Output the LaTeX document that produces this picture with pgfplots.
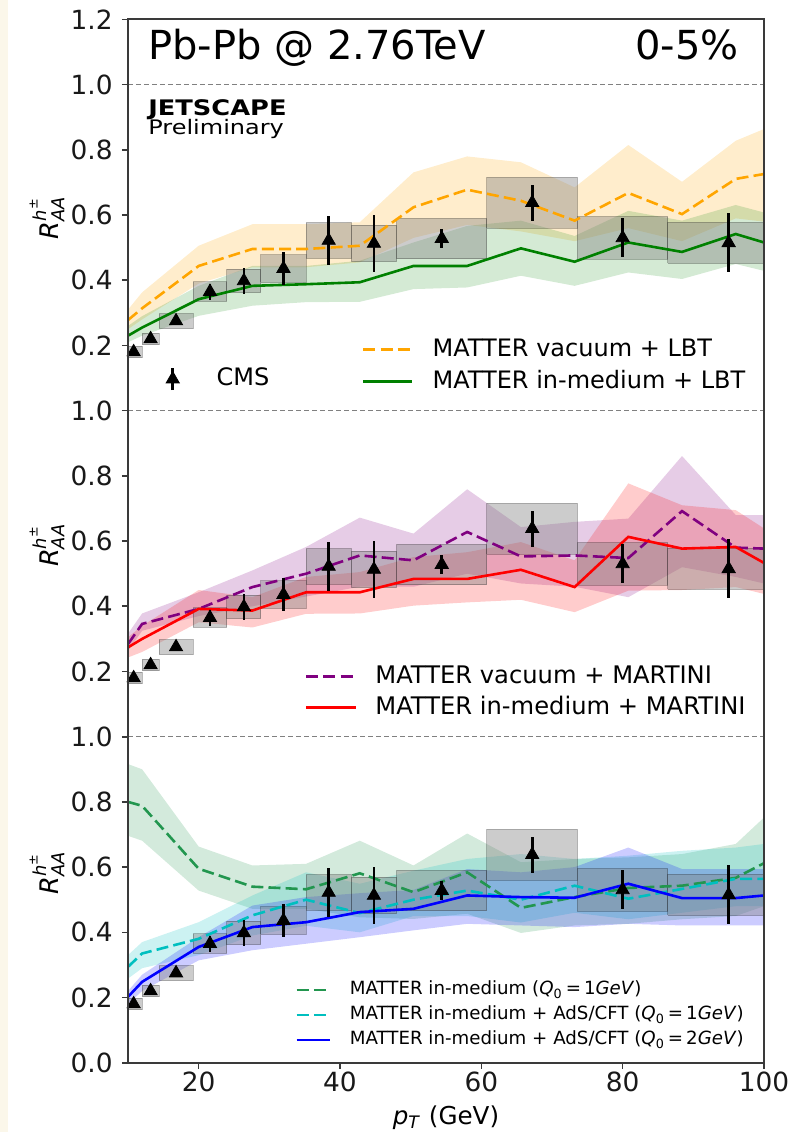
\documentclass[border=0pt]{standalone}
\usepackage{fontspec}
\setmainfont{DejaVu Sans}
\newfontfamily\jsfont{DejaVu Sans}[FakeStretch=1.2]
\usepackage{amsmath}
\usepackage{pgfplots}
\pgfplotsset{compat=1.18}
\usepackage{pgfplotstable}

\definecolor{corange}{HTML}{FFA500}
\definecolor{cgreen}{HTML}{008000}
\definecolor{cpurple}{HTML}{800080}
\definecolor{cred}{HTML}{FF0000}
\definecolor{csea}{HTML}{22964F}
\definecolor{ccyan}{HTML}{00BFBF}
\definecolor{cblue}{HTML}{0000FF}
\definecolor{cream}{HTML}{FBF7EA}
\definecolor{spine}{HTML}{3A3A3A}

% CMS charged hadron R_AA, 0-5%
\pgfplotstableread{
x y stat
10.8 0.180 0.008
13.2 0.220 0.008
16.8 0.275 0.010
21.6 0.365 0.025
26.4 0.398 0.040
32.0 0.436 0.050
38.4 0.522 0.074
44.8 0.513 0.087
54.4 0.528 0.028
67.2 0.638 0.055
80.0 0.530 0.060
95.0 0.515 0.090
}\cmstab

% central curves: x and value of each model
\pgfplotstableread{
x vacLBT medLBT vacMAR medMAR medQone adsQone adsQtwo
10   0.278 0.230 0.284 0.274 0.800 0.294 0.202
12   0.314 0.255 0.346 0.300 0.788 0.335 0.248
20   0.444 0.342 0.392 0.392 0.595 0.380 0.355
27.6 0.496 0.383 0.459 0.387 0.540 0.452 0.416
35.2 0.496 0.388 0.500 0.443 0.532 0.500 0.431
42.8 0.506 0.394 0.556 0.443 0.581 0.459 0.462
50.4 0.624 0.444 0.541 0.484 0.523 0.500 0.472
58   0.678 0.444 0.628 0.484 0.584 0.528 0.513
65.6 0.644 0.498 0.553 0.512 0.475 0.500 0.508
73.2 0.583 0.457 0.556 0.459 0.508 0.543 0.506
80.8 0.668 0.516 0.548 0.613 0.536 0.503 0.549
88.4 0.603 0.487 0.692 0.577 0.543 0.533 0.505
96   0.711 0.542 0.580 0.582 0.567 0.564 0.505
100  0.726 0.516 0.577 0.533 0.612 0.564 0.513
}\central

% uncertainty bands as closed outlines: upper edge left to right, lower edge right to left
\pgfplotstableread[row sep=\\]{x y\\
10 0.31\\ 12 0.363\\ 20 0.506\\ 27.6 0.572\\ 35.2 0.572\\ 42.8 0.578\\ 50.4 0.731\\ 58 0.78\\ 65.6 0.762\\ 73.2 0.685\\ 80.8 0.815\\ 88.4 0.702\\ 96 0.828\\ 100 0.864\\
100 0.58\\ 96 0.59\\ 88.4 0.52\\ 80.8 0.56\\ 73.2 0.52\\ 65.6 0.55\\ 58 0.57\\ 50.4 0.53\\ 42.8 0.455\\ 35.2 0.44\\ 27.6 0.44\\ 20 0.39\\ 12 0.28\\ 10 0.25\\
}\bandvacLBT
\pgfplotstableread[row sep=\\]{x y\\
10 0.26\\ 12 0.29\\ 20 0.383\\ 27.6 0.444\\ 35.2 0.444\\ 42.8 0.46\\ 50.4 0.516\\ 58 0.567\\ 65.6 0.583\\ 73.2 0.536\\ 80.8 0.613\\ 88.4 0.583\\ 96 0.631\\ 100 0.608\\
100 0.429\\ 96 0.45\\ 88.4 0.404\\ 80.8 0.424\\ 73.2 0.383\\ 65.6 0.414\\ 58 0.378\\ 50.4 0.373\\ 42.8 0.334\\ 35.2 0.333\\ 27.6 0.322\\ 20 0.291\\ 12 0.23\\ 10 0.21\\
}\bandmedLBT
\pgfplotstableread[row sep=\\]{x y\\
10 0.316\\ 12 0.378\\ 20 0.443\\ 27.6 0.51\\ 35.2 0.582\\ 42.8 0.672\\ 50.4 0.623\\ 58 0.759\\ 65.6 0.643\\ 73.2 0.659\\ 80.8 0.669\\ 88.4 0.861\\ 96 0.68\\ 100 0.68\\
100 0.47\\ 96 0.49\\ 88.4 0.52\\ 80.8 0.428\\ 73.2 0.46\\ 65.6 0.47\\ 58 0.50\\ 50.4 0.46\\ 42.8 0.46\\ 35.2 0.43\\ 27.6 0.40\\ 20 0.37\\ 12 0.325\\ 10 0.263\\
}\bandvacMAR
\pgfplotstableread[row sep=\\]{x y\\
10 0.305\\ 12 0.34\\ 20 0.45\\ 27.6 0.428\\ 35.2 0.49\\ 42.8 0.505\\ 50.4 0.551\\ 58 0.566\\ 65.6 0.597\\ 73.2 0.541\\ 80.8 0.777\\ 88.4 0.71\\ 96 0.695\\ 100 0.639\\
100 0.438\\ 96 0.459\\ 88.4 0.45\\ 80.8 0.448\\ 73.2 0.382\\ 65.6 0.42\\ 58 0.412\\ 50.4 0.402\\ 42.8 0.378\\ 35.2 0.377\\ 27.6 0.335\\ 20 0.351\\ 12 0.26\\ 10 0.243\\
}\bandmedMAR
\pgfplotstableread[row sep=\\]{x y\\
10 0.916\\ 12 0.90\\ 20 0.663\\ 27.6 0.605\\ 35.2 0.61\\ 42.8 0.681\\ 50.4 0.605\\ 58 0.703\\ 65.6 0.615\\ 73.2 0.625\\ 80.8 0.63\\ 88.4 0.64\\ 96 0.671\\ 100 0.752\\
100 0.48\\ 96 0.45\\ 88.4 0.44\\ 80.8 0.426\\ 73.2 0.421\\ 65.6 0.398\\ 58 0.457\\ 50.4 0.441\\ 42.8 0.446\\ 35.2 0.472\\ 27.6 0.472\\ 20 0.528\\ 12 0.681\\ 10 0.696\\
}\bandmedQone
\pgfplotstableread[row sep=\\]{x y\\
10 0.33\\ 12 0.37\\ 20 0.431\\ 27.6 0.513\\ 35.2 0.584\\ 42.8 0.549\\ 50.4 0.589\\ 58 0.625\\ 65.6 0.64\\ 73.2 0.625\\ 80.8 0.635\\ 88.4 0.65\\ 96 0.66\\ 100 0.671\\
100 0.48\\ 96 0.48\\ 88.4 0.46\\ 80.8 0.44\\ 73.2 0.46\\ 65.6 0.43\\ 58 0.45\\ 50.4 0.45\\ 42.8 0.40\\ 35.2 0.42\\ 27.6 0.39\\ 20 0.33\\ 12 0.29\\ 10 0.258\\
}\bandadsQone
\pgfplotstableread[row sep=\\]{x y\\
10 0.22\\ 12 0.27\\ 20 0.385\\ 27.6 0.482\\ 35.2 0.508\\ 42.8 0.52\\ 50.4 0.53\\ 58 0.594\\ 65.6 0.584\\ 73.2 0.60\\ 80.8 0.66\\ 88.4 0.594\\ 96 0.594\\ 100 0.594\\
100 0.421\\ 96 0.421\\ 88.4 0.421\\ 80.8 0.426\\ 73.2 0.416\\ 65.6 0.421\\ 58 0.426\\ 50.4 0.406\\ 42.8 0.385\\ 35.2 0.365\\ 27.6 0.345\\ 20 0.314\\ 12 0.22\\ 10 0.18\\
}\bandadsQtwo

\newcommand{\sysbox}[4]{\addplot[forget plot, fill=gray, fill opacity=0.4, draw=black, draw opacity=0.25, line width=0.5pt] coordinates {(#1,#3) (#2,#3) (#2,#4) (#1,#4) (#1,#3)};}
\newcommand{\cmsboxes}{%
\sysbox{9.6}{12}{0.162}{0.198}
\sysbox{12}{14.4}{0.202}{0.238}
\sysbox{14.4}{19.2}{0.252}{0.298}
\sysbox{19.2}{24}{0.335}{0.395}
\sysbox{24}{28.8}{0.362}{0.434}
\sysbox{28.8}{35.2}{0.394}{0.478}
\sysbox{35.2}{41.6}{0.467}{0.577}
\sysbox{41.6}{48}{0.457}{0.569}
\sysbox{48}{60.8}{0.466}{0.590}
\sysbox{60.8}{73.6}{0.560}{0.716}
\sysbox{73.6}{86.4}{0.465}{0.595}
\sysbox{86.4}{103.6}{0.452}{0.578}
}
\newcommand{\cmspoints}{%
\addplot[forget plot, only marks, black, mark=triangle*, mark size=3.8pt,
  error bars/.cd, y dir=both, y explicit, error mark=none,
  error bar style={line width=1.3pt, black}]
  table[x=x, y=y, y error=stat]{\cmstab};
}
\newcommand{\band}[3]{%
\addplot[forget plot, draw=none, fill=#2, fill opacity=#3] table[x=x, y=y]{#1};
}

\pgfplotsset{
  panel/.style={
    scale only axis, width=318pt,
    xmin=10, xmax=100,
    axis line style={draw=none},
    tick align=outside,
    major tick length=3pt,
    major tick style={spine, line width=0.8pt},
    ytick pos=left, xtick pos=bottom,
    minor tick num=0,
    tick label style={font=\fontsize{13.2}{15}\selectfont, inner sep=0pt, text=black!90},
    /pgf/number format/assume math mode=true,
    yticklabel style={anchor=east, xshift=-4.5pt, /pgf/number format/fixed, /pgf/number format/fixed zerofill, /pgf/number format/precision=1},
    xticklabel style={anchor=north, yshift=-1.5pt},
    label style={font=\fontsize{12.8}{15}\selectfont},
    legend cell align=left,
  },
  lw/.style={line width=1.3pt},
  dsh/.style={line width=1.3pt, dash pattern=on 6pt off 2.6pt},
}

\begin{document}
\begin{tikzpicture}
\path[use as bounding box] (0,0) rectangle (396pt,566pt);
\fill[cream] (0,0) rectangle (4.2pt,566pt);

% ---------------- top panel ----------------
\begin{axis}[panel, name=top, at={(64pt,360.65pt)}, anchor=south west,
  height=195.6pt, ymin=0, ymax=1.2, ytick={0.2,0.4,0.6,0.8,1.0,1.2}, xtick=\empty,
  ylabel={$\textit{R}^{\textit{h}^{\text{±}}}_{\textit{AA}}$},
  ylabel style={at={(axis description cs:-0.1274,0.494)}, anchor=center},
  legend image code/.code={\draw[#1] (0pt,0pt) -- (24.5pt,0pt);},
  legend style={at={(0.368,0.115)}, anchor=west, draw=none, fill=none, inner sep=0pt, outer sep=0pt,
    font=\fontsize{12}{14}\selectfont, row sep=5pt, column sep=9.5pt,
    nodes={inner sep=0pt, text height=8.8pt, text depth=2.2pt}},
]
\addplot[forget plot, gray, line width=0.7pt, dash pattern=on 2.5pt off 1.5pt] coordinates {(10,1) (100,1)};
\band{\bandvacLBT}{corange}{0.2}
\band{\bandmedLBT}{cgreen}{0.17}
\cmsboxes
\addplot[corange, dsh] table[x=x, y=vacLBT]{\central};
\addlegendentry{MATTER vacuum + LBT}
\addplot[cgreen, lw] table[x=x, y=medLBT]{\central};
\addlegendentry{MATTER in-medium + LBT}
\cmspoints
\node[anchor=base west, inner sep=0pt, font=\fontsize{20}{24}\selectfont] at (rel axis cs:0.0314,0.899) {Pb-Pb @ 2.76TeV};
\node[anchor=base east, inner sep=0pt, font=\fontsize{20}{24}\selectfont] at (rel axis cs:0.961,0.899) {0-5\%};
\node[anchor=base west, inner sep=0pt, font=\jsfont\bfseries\fontsize{10.7}{12}\selectfont] at (rel axis cs:0.0314,0.755) {JETSCAPE};
\node[anchor=base west, inner sep=0pt, font=\jsfont\fontsize{10}{11}\selectfont] at (rel axis cs:0.0314,0.706) {Preliminary};
\end{axis}

% CMS legend overlay
\begin{axis}[scale only axis, width=318pt, height=195.6pt, at={(64pt,360.65pt)}, anchor=south west,
  hide axis, xmin=0, xmax=1, ymin=0, ymax=1,
  legend image code/.code={\draw[black, line width=1.3pt] (0pt,-5.5pt) -- (0pt,5.5pt);
     \draw[black] plot[only marks, mark=triangle*, mark size=3.8pt] coordinates {(0pt,0pt)};},
  legend style={at={(0.06,0.0806)}, anchor=west, draw=none, fill=none, inner sep=0pt, outer sep=0pt,
    font=\fontsize{12}{14}\selectfont, column sep=18.7pt,
    nodes={inner sep=0pt, text height=8.8pt, text depth=2.2pt}},
]
\addplot[forget plot, draw=none] coordinates {(0,0) (1,1)};
\addlegendimage{black}
\addlegendentry{CMS}
\end{axis}

% ---------------- middle panel ----------------
\begin{axis}[panel, name=mid, at={(64pt,197.65pt)}, anchor=south west,
  height=163pt, ymin=0, ymax=1.0, ytick={0.2,0.4,0.6,0.8,1.0}, xtick=\empty,
  ylabel={$\textit{R}^{\textit{h}^{\text{±}}}_{\textit{AA}}$},
  ylabel style={at={(axis description cs:-0.1274,0.587)}, anchor=center},
  legend image code/.code={\draw[#1] (0pt,0pt) -- (25pt,0pt);},
  legend style={at={(0.278,0.137)}, anchor=west, draw=none, fill=none, inner sep=0pt, outer sep=0pt,
    font=\fontsize{12.1}{14}\selectfont, row sep=4.6pt, column sep=9pt,
    nodes={inner sep=0pt, text height=8.8pt, text depth=2.2pt}},
]
\band{\bandvacMAR}{cpurple}{0.2}
\band{\bandmedMAR}{cred}{0.2}
\cmsboxes
\addplot[cpurple, dsh] table[x=x, y=vacMAR]{\central};
\addlegendentry{MATTER vacuum + MARTINI}
\addplot[cred, lw] table[x=x, y=medMAR]{\central};
\addlegendentry{MATTER in-medium + MARTINI}
\cmspoints
\end{axis}

% ---------------- bottom panel ----------------
\begin{axis}[panel, name=bot, at={(64pt,34.65pt)}, anchor=south west,
  height=163pt, ymin=0, ymax=1.0, ytick={0,0.2,0.4,0.6,0.8,1.0},
  xtick={20,40,60,80,100},
  xticklabel style={/pgf/number format/fixed, /pgf/number format/precision=0},
  xlabel={\textit{p}\textsubscript{\textit{T}} (GeV)},
  xlabel style={at={(axis description cs:0.5,-0.168)}, anchor=center, font=\fontsize{12.3}{15}\selectfont},
  ylabel={$\textit{R}^{\textit{h}^{\text{±}}}_{\textit{AA}}$},
  ylabel style={at={(axis description cs:-0.1274,0.583)}, anchor=center},
  legend image code/.code={\draw[#1] (0pt,0pt) -- (16.5pt,0pt);},
  legend style={at={(0.263,0.146)}, anchor=west, draw=none, fill=none, inner sep=0pt, outer sep=0pt,
    font=\fontsize{9.1}{11}\selectfont, row sep=4.1pt, column sep=9.5pt,
    nodes={inner sep=0pt, text height=6.6pt, text depth=1.8pt}},
]
\band{\bandmedQone}{csea}{0.2}
\band{\bandadsQone}{ccyan}{0.2}
\band{\bandadsQtwo}{cblue}{0.2}
\cmsboxes
\addplot[csea, dsh] table[x=x, y=medQone]{\central};
\addlegendentry{MATTER in-medium (\textit{Q}\textsubscript{0}\,=\,1\textit{GeV})}
\addplot[ccyan, dsh] table[x=x, y=adsQone]{\central};
\addlegendentry{MATTER in-medium + AdS/CFT (\textit{Q}\textsubscript{0}\,=\,1\textit{GeV})}
\addplot[cblue, lw] table[x=x, y=adsQtwo]{\central};
\addlegendentry{MATTER in-medium + AdS/CFT (\textit{Q}\textsubscript{0}\,=\,2\textit{GeV})}
\cmspoints
\end{axis}

% reference lines at the panel boundaries and frame
\draw[gray, line width=0.7pt, dash pattern=on 2.5pt off 1.5pt] (mid.north west) -- (mid.north east);
\draw[gray, line width=0.7pt, dash pattern=on 2.5pt off 1.5pt] (bot.north west) -- (bot.north east);
\draw[spine, line width=1pt] (bot.south west) rectangle (top.north east);
\end{tikzpicture}
\end{document}
